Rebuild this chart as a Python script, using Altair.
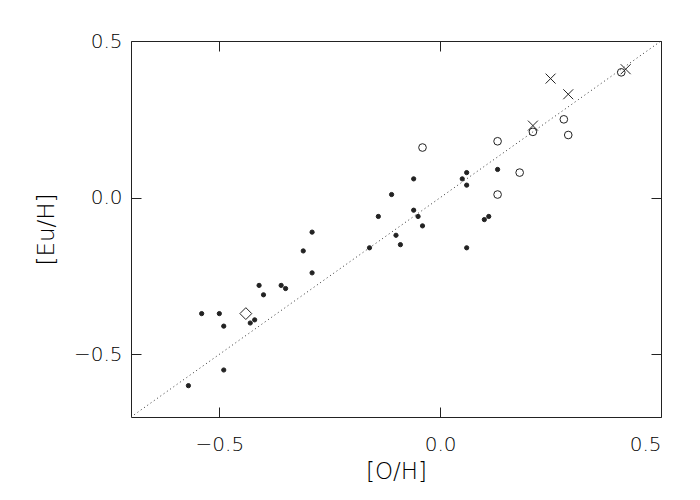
import altair as alt
import pandas as pd

# filled dots
dot_x = [-0.06, -0.11, -0.06, -0.05, -0.04, -0.14, -0.29, -0.31, -0.29, -0.10, -0.09, -0.16,
         -0.41, -0.40, -0.36, -0.35, -0.54, -0.50, -0.49, -0.43, -0.42, -0.49, -0.57,
         0.13, 0.06, 0.05, 0.06, 0.11, 0.10, 0.06]
dot_y = [0.06, 0.01, -0.04, -0.06, -0.09, -0.06, -0.11, -0.17, -0.24, -0.12, -0.15, -0.16,
         -0.28, -0.31, -0.28, -0.29, -0.37, -0.37, -0.41, -0.40, -0.39, -0.55, -0.60,
         0.09, 0.08, 0.06, 0.04, -0.06, -0.07, -0.16]
# open circles
circ_x = [-0.04, 0.13, 0.18, 0.13, 0.21, 0.28, 0.29, 0.41]
circ_y = [0.16, 0.18, 0.08, 0.01, 0.21, 0.25, 0.20, 0.40]
# crosses
cross_x = [0.25, 0.29, 0.21, 0.42]
cross_y = [0.38, 0.33, 0.23, 0.41]
# diamond
diam_x = [-0.44]
diam_y = [-0.37]
# 1:1 line
line_x = [-0.7, 0.5]
line_y = [-0.7, 0.5]

tick_vals = [-0.5, 0.0, 0.5]
dom = [-0.7, 0.5]
FONT = "DejaVu Sans"
INK = "#222222"
TXT = "#000000"

rows = []
for k, xs, ys in [("dot", dot_x, dot_y), ("circle", circ_x, circ_y),
                  ("cross", cross_x, cross_y), ("diamond", diam_x, diam_y)]:
    for a, b in zip(xs, ys):
        rows.append({"OH": a, "EuH": b, "kind": k})
pts = pd.DataFrame(rows)
ln = pd.DataFrame({"OH": line_x, "EuH": line_y})

xscale = alt.Scale(domain=dom, nice=False, zero=False)
yscale = alt.Scale(domain=dom, nice=False, zero=False)

common_axis = dict(values=tick_vals, offset=-10, tickSize=10, domain=False, grid=False,
                   tickColor=INK, tickWidth=1, labelColor=TXT, labelFont=FONT,
                   labelFontSize=20, labelFontWeight=200, titleFont=FONT,
                   titleFontSize=23, titleColor=TXT, titleFontWeight=200, format=".1f")

kinds = ["dot", "circle", "cross", "diamond"]
shapes = ["circle", "circle", "M-1,-1L1,1M-1,1L1,-1", "diamond"]
sizes = [18, 140, 130, 120]
fills = [INK, "transparent", "transparent", "transparent"]

points = alt.Chart(pts).mark_point(strokeWidth=1, opacity=1).encode(
    x=alt.X("OH:Q", scale=xscale,
            axis=alt.Axis(orient="bottom", title="[O/H]", labelPadding=17,
                          titlePadding=6, **common_axis)),
    y=alt.Y("EuH:Q", scale=yscale,
            axis=alt.Axis(orient="left", title="[Eu/H]", labelPadding=9,
                          titlePadding=15, **common_axis)),
    shape=alt.Shape("kind:N", scale=alt.Scale(domain=kinds, range=shapes), legend=None),
    size=alt.Size("kind:N", scale=alt.Scale(domain=kinds, range=sizes), legend=None),
    fill=alt.Fill("kind:N", scale=alt.Scale(domain=kinds, range=fills), legend=None),
    stroke=alt.value(INK),
)

line = alt.Chart(ln).mark_line(strokeDash=[1, 3], strokeWidth=1, color="#333333").encode(
    x=alt.X("OH:Q", scale=xscale,
            axis=alt.Axis(orient="top", title=None, labels=False, values=tick_vals,
                          offset=-10, tickSize=10, domain=False, grid=False,
                          tickColor=INK, tickWidth=1)),
    y=alt.Y("EuH:Q", scale=yscale,
            axis=alt.Axis(orient="right", title=None, labels=False, values=tick_vals,
                          offset=-10, tickSize=10, domain=False, grid=False,
                          tickColor=INK, tickWidth=1)),
)

chart = alt.layer(line, points).resolve_axis(x="independent", y="independent").properties(
    width=530, height=376,
    autosize=alt.AutoSizeParams(type="none"),
    padding={"left": 123, "top": 33, "right": 20, "bottom": 70},
    background="white",
).configure_view(stroke=INK, strokeWidth=1)

chart.save("out.html", embed_options={"renderer": "svg", "actions": False})
